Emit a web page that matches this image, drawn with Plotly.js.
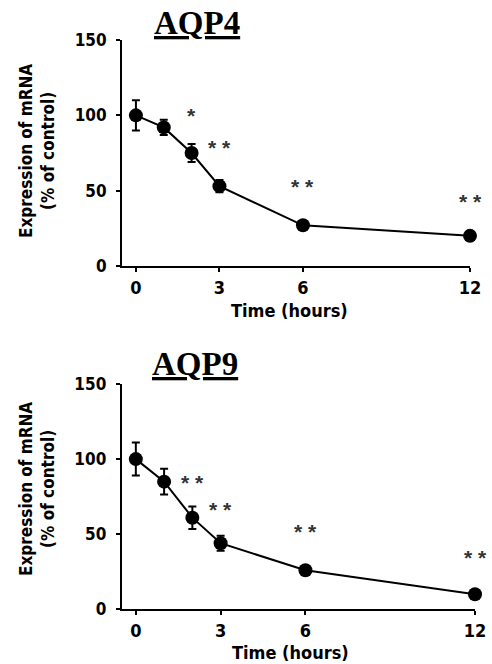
<!DOCTYPE html>
<html>
<head>
<meta charset="utf-8">
<script src="https://cdn.plot.ly/plotly-3.0.1.min.js"></script>
<style>html,body{margin:0;padding:0;background:#fff;}</style>
</head>
<body>
<div id="chart" style="width:492px;height:664px;"></div>
<script>
// ---- data ----
var timeHours = [0, 1, 2, 3, 6, 12];
var aqp4Mean = [100, 92, 75, 53, 27, 20];
var aqp4Err = [10, 5, 6, 4, 2, 2];
var aqp9Mean = [100, 85, 61, 44, 26, 10];
var aqp9Err = [11, 8.5, 7.5, 5, 2, 1.5];
var sigTime4 = [2, 3, 6, 12];
var sigY4 = [101, 80, 54, 44];
var sigLabel4 = ["*", "**", "**", "**"];
var sigTime9 = [2, 3, 6, 12];
var sigY9 = [86, 68, 53, 36];
var sigLabel9 = ["**", "**", "**", "**"];
var xTicks = [0, 3, 6, 12];
var yTicks = [0, 50, 100, 150];
var panelTitles = ["AQP4", "AQP9"];
var yTitleText = "Expression of mRNA<br>(% of control)";
var xTitleText = "Time (hours)";

var narrow = "Liberation Sans Narrow, DejaVu Sans Condensed, Arial Narrow, Liberation Sans, sans-serif";

function seriesTrace(y, err, xa, ya) {
  return {
    x: timeHours, y: y, xaxis: xa, yaxis: ya,
    type: "scatter", mode: "lines+markers",
    line: {color: "#000", width: 2},
    marker: {color: "#000", size: 14},
    error_y: {type: "data", array: err, visible: true, color: "#000", thickness: 2, width: 4},
    cliponaxis: false, showlegend: false, hoverinfo: "skip"
  };
}

var traces = [
  seriesTrace(aqp4Mean, aqp4Err, "x", "y"),
  seriesTrace(aqp9Mean, aqp9Err, "x2", "y2")
];

function xAxis(domain, anchor) {
  return {
    domain: domain, anchor: anchor, range: [-0.5, 12],
    tickmode: "array", tickvals: xTicks, ticktext: xTicks.map(String),
    ticks: "outside", ticklen: 4, tickwidth: 2, tickcolor: "#000",
    showline: true, linewidth: 2, linecolor: "#000",
    showgrid: false, zeroline: false, ticklabelstandoff: 0,
    tickfont: {family: narrow, size: 18, color: "#000", weight: "bold"}
  };
}
function yAxis(domain, anchor) {
  return {
    domain: domain, anchor: anchor, range: [0, 150],
    tickmode: "array", tickvals: yTicks, ticktext: yTicks.map(String),
    ticks: "outside", ticklen: 4, tickwidth: 2, tickcolor: "#000",
    showline: true, linewidth: 2, linecolor: "#000",
    showgrid: false, zeroline: false, ticklabelstandoff: 6,
    tickfont: {family: narrow, size: 17, color: "#000", weight: "bold"}
  };
}

var annotations = [];
function addSig(xs, ys, labels, xr, yr) {
  for (var i = 0; i < xs.length; i++) {
    annotations.push({
      x: xs[i], y: ys[i], xref: xr, yref: yr, showarrow: false,
      text: labels[i].split("").join("\u00a0"),
      font: {family: "Liberation Sans, sans-serif", size: 21, color: "#333", weight: "bold"},
      xanchor: "center", yanchor: "middle", yshift: -2
    });
  }
}
addSig(sigTime4, sigY4, sigLabel4, "x", "y");
addSig(sigTime9, sigY9, sigLabel9, "x2", "y2");

var titlePos = [[197 / 492, (664 - 23) / 664], [195 / 492, (664 - 364) / 664]];
var yTitlePos = [[37 / 492, (664 - 151) / 664], [37 / 492, (664 - 489) / 664]];
var xTitlePos = [[289 / 492, (664 - 310) / 664], [290 / 492, (664 - 652) / 664]];
for (var k = 0; k < 2; k++) {
  annotations.push({
    x: titlePos[k][0], y: titlePos[k][1], xref: "paper", yref: "paper", showarrow: false,
    text: panelTitles[k], xanchor: "center", yanchor: "middle",
    font: {family: "Liberation Serif, Times New Roman, serif", size: 33, color: "#000", weight: "bold", lineposition: "under"}
  });
  annotations.push({
    x: yTitlePos[k][0], y: yTitlePos[k][1], xref: "paper", yref: "paper", showarrow: false,
    text: yTitleText, textangle: -90, xanchor: "center", yanchor: "middle",
    font: {family: narrow, size: 17, color: "#000", weight: "bold"}
  });
  annotations.push({
    x: xTitlePos[k][0], y: xTitlePos[k][1], xref: "paper", yref: "paper", showarrow: false,
    text: xTitleText, xanchor: "center", yanchor: "middle",
    font: {family: narrow, size: 18, color: "#000", weight: "bold"}
  });
}

var layout = {
  width: 492, height: 664,
  margin: {l: 0, r: 0, t: 0, b: 0},
  paper_bgcolor: "#fff", plot_bgcolor: "#fff",
  showlegend: false,
  xaxis: xAxis([122 / 492, 470 / 492], "y"),
  yaxis: yAxis([398 / 664, 624 / 664], "x"),
  xaxis2: xAxis([121.7 / 492, 475 / 492], "y2"),
  yaxis2: yAxis([54.7 / 664, 280 / 664], "x2"),
  annotations: annotations
};

Plotly.newPlot("chart", traces, layout, {staticPlot: true, displayModeBar: false});
</script>
</body>
</html>
